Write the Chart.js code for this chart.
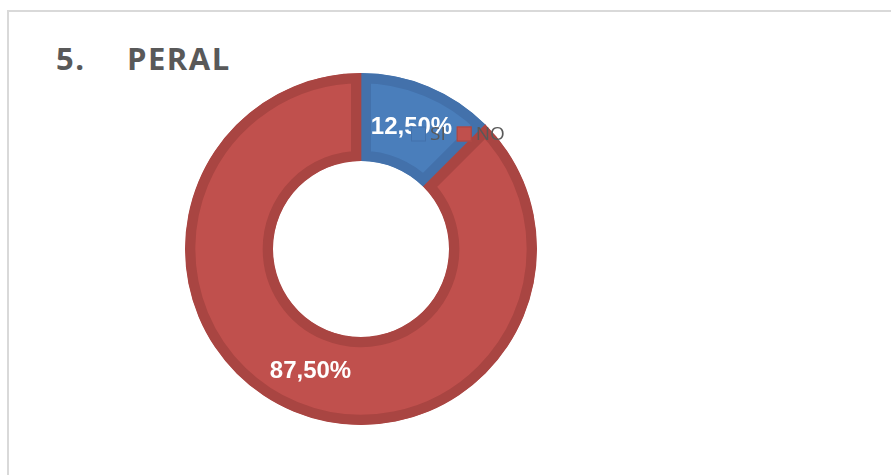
<!DOCTYPE html>
<html lang="es">
<head>
    <meta charset="UTF-8">
    <title>5. PERAL</title>
    <script src="https://cdn.jsdelivr.net/npm/chart.js"></script>
    <style>
        body {
            margin: 0;
            padding: 0;
            background: #ffffff;
            width: 891px;
            height: 475px;
            overflow: hidden;
            position: relative;
            font-family: "Open Sans", sans-serif;
        }

        #frame {
            position: absolute;
            left: 7px;
            top: 10px;
            width: 900px;
            height: 480px;
            border: 2px solid #d9d9d9;
        }

        .title {
            position: absolute;
            top: 38px;
            font-size: 31px;
            font-weight: bold;
            color: #595959;
            letter-spacing: 1.5px;
            line-height: 40px;
        }

        #chart-box {
            position: absolute;
            left: 0;
            top: 0;
            width: 891px;
            height: 475px;
        }
    </style>
</head>
<body>
    <div id="frame"></div>
    <div class="title" style="left: 56px;">5.</div>
    <div class="title" style="left: 127px;">PERAL</div>
    <div id="chart-box"><canvas id="pieChart"></canvas></div>

    <script>
        // Daten
        const categories = ['SI', 'NO'];
        const values = [12.5, 87.5];
        const valueLabels = ['12,50%', '87,50%'];

        const fillColors = ['#4a7ebb', '#c0504d'];
        const borderColors = ['#4371ab', '#a94542'];

        // Prozent-Beschriftung in der Mitte jedes Segments
        const labelPlugin = {
            id: 'segmentLabels',
            afterDatasetsDraw(chart) {
                const ctx = chart.ctx;
                const meta = chart.getDatasetMeta(0);
                ctx.save();
                ctx.font = 'bold 24px "Liberation Sans", Arial, sans-serif';
                ctx.fillStyle = '#ffffff';
                ctx.textAlign = 'center';
                ctx.textBaseline = 'middle';
                meta.data.forEach((arc, i) => {
                    const pos = arc.tooltipPosition();
                    ctx.fillText(valueLabels[i], pos.x, pos.y);
                });
                ctx.restore();
            }
        };

        // Legende, die ueber dem Ring liegt (wie im Original)
        const legendPlugin = {
            id: 'floatingLegend',
            afterDraw(chart) {
                const ctx = chart.ctx;
                ctx.save();
                ctx.font = '19px "Open Sans", sans-serif';
                ctx.textBaseline = 'middle';
                let x = 411;
                const y = 134;
                categories.forEach((cat, i) => {
                    ctx.fillStyle = fillColors[i];
                    ctx.fillRect(x, y - 7.5, 15, 15);
                    ctx.strokeStyle = borderColors[i];
                    ctx.lineWidth = 1;
                    ctx.strokeRect(x + 0.5, y - 7, 14, 14);
                    ctx.fillStyle = '#595959';
                    ctx.fillText(cat, x + 19, y + 1);
                    x += 19 + ctx.measureText(cat).width + 11;
                });
                ctx.restore();
            }
        };

        const ctx = document.getElementById('pieChart').getContext('2d');
        new Chart(ctx, {
            type: 'doughnut',
            data: {
                labels: categories,
                datasets: [{
                    data: values,
                    backgroundColor: fillColors,
                    borderColor: borderColors,
                    borderWidth: 10,
                    borderAlign: 'inner',
                    borderJoinStyle: 'miter'
                }]
            },
            options: {
                responsive: true,
                maintainAspectRatio: false,
                animation: false,
                cutout: '50%',
                layout: {
                    padding: { left: 185, right: 354, top: 73, bottom: 50 }
                },
                plugins: {
                    legend: { display: false },
                    tooltip: { enabled: false }
                }
            },
            plugins: [labelPlugin, legendPlugin]
        });
    </script>
</body>
</html>
